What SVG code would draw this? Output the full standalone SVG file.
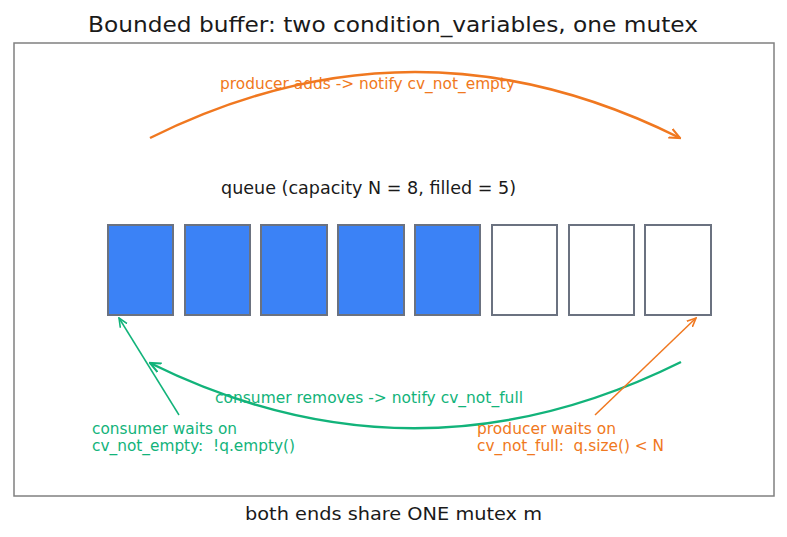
<svg xmlns="http://www.w3.org/2000/svg" width="787" height="537" viewBox="0 0 787 537">
<style>
text{font-family:"DejaVu Sans",sans-serif;white-space:pre}
.t{font-size:15px}
.o{fill:#f07820}
.g{fill:#12b37a}
.full{fill:#3b82f6;stroke:#6b7280;stroke-width:2}
.empty{fill:#ffffff;stroke:#6b7280;stroke-width:2}
.ln{fill:none}
</style>
<defs>
<marker id="ao" viewBox="0 0 10 10" refX="9" refY="5" markerWidth="10" markerHeight="10" markerUnits="userSpaceOnUse" orient="auto"><path d="M0,1 L9,5 L0,9" fill="none" stroke="#f07820" stroke-width="1.6"/></marker>
<marker id="ag" viewBox="0 0 10 10" refX="9" refY="5" markerWidth="10" markerHeight="10" markerUnits="userSpaceOnUse" orient="auto"><path d="M0,1 L9,5 L0,9" fill="none" stroke="#12b37a" stroke-width="1.6"/></marker>
<marker id="aol" viewBox="0 0 10 10" refX="9" refY="5" markerWidth="12" markerHeight="12" markerUnits="userSpaceOnUse" orient="auto"><path d="M0,1 L9,5 L0,9" fill="none" stroke="#f07820" stroke-width="1.8"/></marker>
<marker id="agl" viewBox="0 0 10 10" refX="9" refY="5" markerWidth="12" markerHeight="12" markerUnits="userSpaceOnUse" orient="auto"><path d="M0,1 L9,5 L0,9" fill="none" stroke="#12b37a" stroke-width="1.8"/></marker>
</defs>
<rect width="787" height="537" fill="#ffffff"/>
<text x="88" y="32" font-size="22" fill="#1a1a1a" textLength="610" lengthAdjust="spacingAndGlyphs">Bounded buffer: two condition_variables, one mutex</text>
<rect x="14" y="43" width="760" height="453" fill="none" stroke="#808080" stroke-width="1.5"/>
<g id="queue">
<text x="221" y="194" font-size="17" fill="#1a1a1a" textLength="295" lengthAdjust="spacingAndGlyphs">queue (capacity N = 8, filled = 5)</text>
<g id="slot1"><rect class="full" x="108" y="225" width="65" height="90"/></g>
<g id="slot2"><rect class="full" x="185" y="225" width="65" height="90"/></g>
<g id="slot3"><rect class="full" x="261" y="225" width="66" height="90"/></g>
<g id="slot4"><rect class="full" x="338" y="225" width="66" height="90"/></g>
<g id="slot5"><rect class="full" x="415" y="225" width="65" height="90"/></g>
<g id="slot6"><rect class="empty" x="492" y="225" width="65" height="90"/></g>
<g id="slot7"><rect class="empty" x="569" y="225" width="65" height="90"/></g>
<g id="slot8"><rect class="empty" x="645" y="225" width="66" height="90"/></g>
</g>
<g id="connectors">
<path class="ln" d="M150,138 Q415,6 680,138" stroke="#f07820" stroke-width="2.5" marker-end="url(#aol)"/>
<path class="ln" d="M681,362 Q415,494 150,363" stroke="#12b37a" stroke-width="2.5" marker-end="url(#agl)"/>
<path class="ln" d="M179,415 L119,318" stroke="#12b37a" stroke-width="1.5" marker-end="url(#ag)"/>
<path class="ln" d="M595,415 L696,318" stroke="#f07820" stroke-width="1.5" marker-end="url(#ao)"/>
</g>
<text class="t o" x="220" y="88.5" textLength="295" lengthAdjust="spacingAndGlyphs">producer adds -&gt; notify cv_not_empty</text>
<text class="t g" x="215" y="403" textLength="308" lengthAdjust="spacingAndGlyphs">consumer removes -&gt; notify cv_not_full</text>
<g id="consumer">
<text class="t g" x="92" y="434" textLength="145" lengthAdjust="spacingAndGlyphs">consumer waits on</text>
<text class="t g" x="92" y="451" textLength="203" lengthAdjust="spacingAndGlyphs">cv_not_empty:  !q.empty()</text>
</g>
<g id="producer">
<text class="t o" x="477" y="434" textLength="139" lengthAdjust="spacingAndGlyphs">producer waits on</text>
<text class="t o" x="477" y="451" textLength="187" lengthAdjust="spacingAndGlyphs">cv_not_full:  q.size() &lt; N</text>
</g>
<text x="245" y="520" font-size="18" fill="#1a1a1a" textLength="297" lengthAdjust="spacingAndGlyphs">both ends share ONE mutex m</text>
</svg>
